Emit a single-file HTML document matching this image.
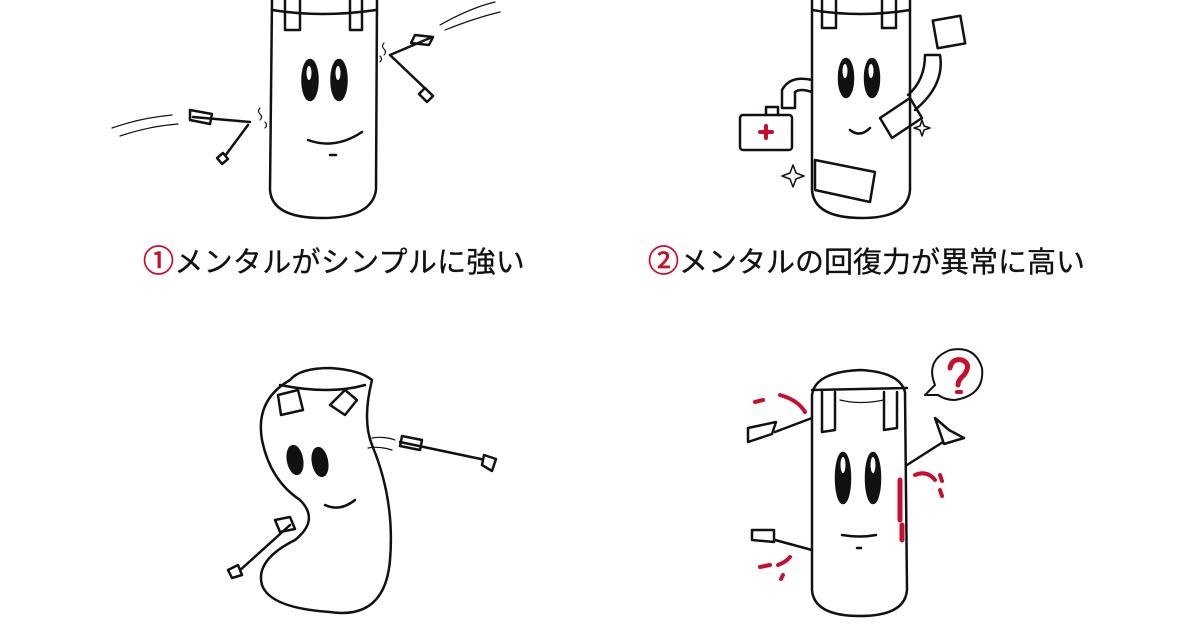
<!DOCTYPE html>
<html><head><meta charset="utf-8"><style>
html,body{margin:0;padding:0;background:#fff;width:1200px;height:630px;overflow:hidden;position:relative}
.t{position:absolute;font-family:"Liberation Sans","Noto Sans CJK JP",sans-serif;font-size:29px;font-weight:normal;color:#111;white-space:nowrap;line-height:1;-webkit-text-stroke:0.3px #111}
.r{color:#c8102e;-webkit-text-stroke:0.7px #c8102e;font-size:31px}
svg{position:absolute;left:0;top:0}
</style></head><body>
<svg width="1200" height="630" viewBox="0 0 1200 630" fill="none" stroke="#111" stroke-width="2.5" stroke-linecap="round" stroke-linejoin="round">
<!-- Panel 1 -->
<path d="M272 0 L270 190 Q272 218 322 218 Q372 218 376 190 L377 0"/>
<path d="M285 0 L285 30 L300 30 L300 0 M350 0 L350 30 L362 30 L362 0"/>
<path d="M272 10 Q322 18 376 10"/>
<ellipse cx="310" cy="80" rx="7.5" ry="20" fill="#111"/><ellipse cx="309" cy="73" rx="2.5" ry="7" fill="#fff" stroke="none"/>
<ellipse cx="339" cy="80" rx="7.5" ry="20" fill="#111"/><ellipse cx="338" cy="73" rx="2.5" ry="7" fill="#fff" stroke="none"/>
<path d="M308 140 Q335 150 362 132"/><path d="M330 155 L336 155"/>
<path d="M390 55 L432 95"/><path d="M425 88 l8 8 l-6 6 l-8 -8z" fill="#fff"/>
<path d="M390 55 L430 38"/><path d="M415 35 l18 2 l-4 8 l-18 -2z"/>
<path d="M440 25 Q470 8 495 2 M445 30 Q475 18 500 12" stroke-width="1.2"/>
<path d="M384 55 q3 -3 0 -6 q-3 -3 0 -6 M380 62 q3 -3 0 -6" stroke-width="1.2"/>
<path d="M250 122 L193 117"/><path d="M190 110 l22 4 l-2 10 l-20 -4z"/>
<path d="M248 125 L222 160"/><path d="M217 158 l6 -5 l5 6 l-6 5z" fill="#fff"/>
<path d="M112 128 Q140 118 172 115 M120 136 Q150 126 178 124" stroke-width="1.2"/>
<path d="M260 120 q3 -3 0 -6 q-3 -3 0 -6 M265 128 q3 -3 0 -6" stroke-width="1.2"/>
<!-- Panel 2 -->
<path d="M812 0 L812 190 Q814 218 862 218 Q908 218 910 190 L910 0"/>
<path d="M822 0 L822 28 L836 28 L836 0 M882 0 L882 28 L896 28 L896 0"/>
<path d="M812 10 Q860 18 910 10"/>
<ellipse cx="846" cy="78" rx="7" ry="19" fill="#111"/><ellipse cx="845" cy="71" rx="2.5" ry="7" fill="#fff" stroke="none"/>
<ellipse cx="872" cy="78" rx="7" ry="19" fill="#111"/><ellipse cx="871" cy="71" rx="2.5" ry="7" fill="#fff" stroke="none"/>
<path d="M850 130 Q860 138 870 128"/>
<path d="M812 80 Q790 75 782 90 L782 108 L795 108 L795 92 Q800 88 812 92"/>
<rect x="740" y="115" width="52" height="35" rx="3"/><path d="M766 115 l0 -8 l12 0 l0 8" />
<path d="M760 132 h12 M766 126 v12" stroke="#c8102e" stroke-width="4"/>
<path d="M908 95 Q925 80 925 55 L940 55 Q945 85 915 110"/>
<rect x="935" y="18" width="28" height="28" transform="rotate(-10 949 32)"/>
<path d="M880 118 l30 -20 l12 20 l-30 20z"/>
<path d="M815 160 l60 12 l-5 30 l-55 -12z"/>
<path d="M793 165 l3 8 l8 3 l-8 3 l-3 8 l-3 -8 l-8 -3 l8 -3z M922 120 l2 6 l6 2 l-6 2 l-2 6 l-2 -6 l-6 -2 l6 -2z" stroke-width="1.5"/>
<!-- Panel 3 -->
<path d="M290 380 Q300 368 330 368 Q360 370 372 380 Q362 420 372 445 Q395 500 390 560 Q385 620 330 612 Q270 608 262 585 Q255 560 295 540 Q320 520 300 500 Q270 480 262 440 Q255 400 290 380z"/>
<path d="M278 395 l20 -5 l5 20 l-22 5z M330 405 l15 -15 l12 10 l-12 15z" />
<path d="M280 385 Q330 395 365 385"/>
<ellipse cx="295" cy="460" rx="7" ry="14" fill="#111" transform="rotate(-10 295 460)"/><ellipse cx="320" cy="462" rx="7" ry="14" fill="#111" transform="rotate(-10 320 462)"/>
<path d="M325 505 Q340 512 355 500"/>
<path d="M400 442 L495 462"/><path d="M402 436 l20 4 l-2 10 l-20 -4z"/><path d="M484 455 l12 4 l-4 12 l-10 -6z" fill="#fff"/>
<path d="M372 438 Q385 436 395 440 M368 448 Q380 446 392 450" stroke-width="1.2"/>
<path d="M290 525 L238 572"/><path d="M275 520 l15 -3 l5 12 l-15 3z"/><path d="M228 570 l10 -5 l4 10 l-10 3z" fill="#fff"/>
<!-- Panel 4 -->
<path d="M812 395 Q815 372 860 370 Q900 372 905 392 L907 590 Q905 616 860 616 Q814 616 812 590 Z"/>
<path d="M812 390 L907 388"/>
<path d="M822 390 L822 432 L835 430 L835 392 M884 392 L884 430 L897 428 L897 392"/>
<path d="M840 400 Q860 405 884 400" stroke-width="1.2"/>
<ellipse cx="843" cy="478" rx="7" ry="25" fill="#111"/><ellipse cx="843" cy="465" rx="2.5" ry="8" fill="#fff" stroke="none"/>
<ellipse cx="873" cy="478" rx="7" ry="25" fill="#111"/><ellipse cx="873" cy="465" rx="2.5" ry="8" fill="#fff" stroke="none"/>
<path d="M842 535 Q860 538 876 535"/><path d="M857 548 l4 0"/>
<path d="M812 418 L775 432"/><path d="M748 428 l28 -6 l-4 12 l-24 8z"/>
<path d="M812 550 L775 540"/><path d="M752 530 l22 0 l0 12 l-22 -2z"/>
<path d="M907 465 L943 442"/><path d="M935 418 l14 12 l15 8 l-20 6z"/>
<path d="M900 480 v40 M902 525 v15" stroke="#c8102e" stroke-width="5"/>
<path d="M755 402 l8 -2 M780 395 Q798 400 805 412 M760 567 l10 -2 M778 565 q8 -3 12 -8 M783 575 l-2 4 M915 475 q12 -5 20 5 M940 475 l2 6 M940 490 l2 6" stroke="#c8102e" stroke-width="4"/>
<path d="M935 385 Q925 360 950 350 Q975 345 982 368 Q985 395 955 400 Q945 400 938 395 L925 395 Z" stroke-width="2"/>
<path d="M950 368 Q952 358 962 360 Q972 364 964 375 Q958 380 958 385" stroke="#c8102e" stroke-width="5"/>
<path d="M957 392 l4 0" stroke="#c8102e" stroke-width="4"/>
</svg>
<div class="t" style="left:143px;top:246px;letter-spacing:0.3px"><span class="r">①</span>メンタルがシンプルに強い</div>
<div class="t" style="left:648px;top:246px;letter-spacing:0px"><span class="r">②</span>メンタルの回復力が異常に高い</div>
</body></html>
